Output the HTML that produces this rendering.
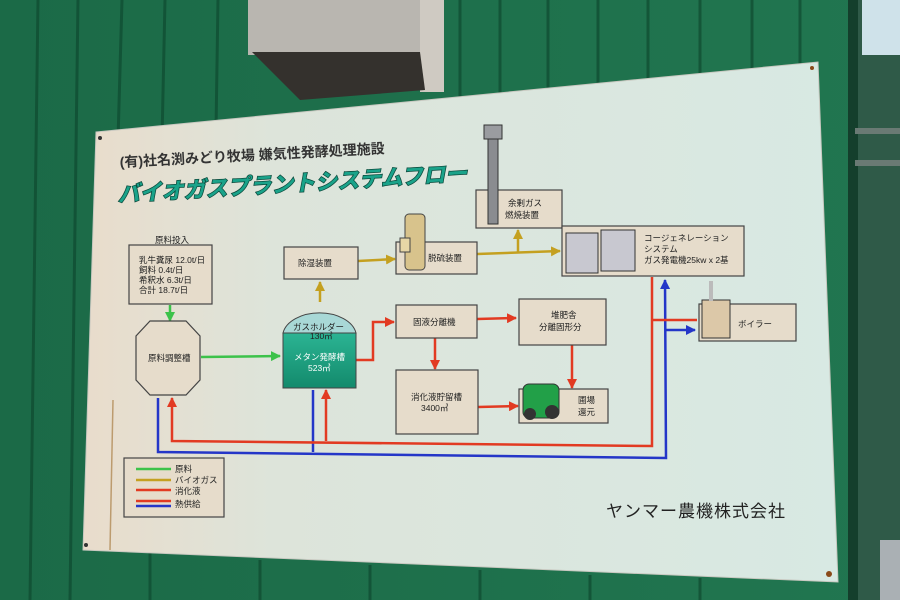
<!DOCTYPE html>
<html><head><meta charset="utf-8"><style>
html,body{margin:0;padding:0;width:900px;height:600px;overflow:hidden;background:#1d6a47}
svg{display:block}
text{font-family:"Liberation Sans","Noto Sans CJK JP",sans-serif;fill:#222}
</style></head><body>
<svg width="900" height="600" viewBox="0 0 900 600" xmlns="http://www.w3.org/2000/svg">
<defs>
<linearGradient id="wall" x1="0" x2="1" y1="0" y2="0">
<stop offset="0" stop-color="#1b6a47"/><stop offset="1" stop-color="#217650"/>
</linearGradient>
<linearGradient id="board" x1="0" x2="1" y1="0" y2="0">
<stop offset="0" stop-color="#e9dccb"/><stop offset="0.25" stop-color="#dde4da"/><stop offset="1" stop-color="#d8e9e3"/>
</linearGradient>
<linearGradient id="tank" x1="0" x2="0" y1="0" y2="1">
<stop offset="0" stop-color="#2bb493"/><stop offset="1" stop-color="#138a6c"/>
</linearGradient>
<marker id="ar" viewBox="0 0 10 10" refX="9" refY="5" markerWidth="4" markerHeight="4" orient="auto"><path d="M0,0L10,5L0,10z" fill="#e23a22"/></marker>
<marker id="ag" viewBox="0 0 10 10" refX="9" refY="5" markerWidth="4" markerHeight="4" orient="auto"><path d="M0,0L10,5L0,10z" fill="#3cc24a"/></marker>
<marker id="ay" viewBox="0 0 10 10" refX="9" refY="5" markerWidth="4" markerHeight="4" orient="auto"><path d="M0,0L10,5L0,10z" fill="#c4a020"/></marker>
<marker id="ab" viewBox="0 0 10 10" refX="9" refY="5" markerWidth="4" markerHeight="4" orient="auto"><path d="M0,0L10,5L0,10z" fill="#2436c8"/></marker>
</defs>
<rect width="900" height="600" fill="url(#wall)"/>
<g stroke="#0f4a30" stroke-width="3" opacity="0.7">
<line x1="38" y1="0" x2="30" y2="600"/><line x1="78" y1="0" x2="70" y2="600"/>
<line x1="122" y1="0" x2="118" y2="140"/><line x1="165" y1="0" x2="162" y2="140"/>
<line x1="218" y1="0" x2="216" y2="130"/><line x1="460" y1="0" x2="460" y2="100"/>
<line x1="500" y1="0" x2="500" y2="95"/><line x1="548" y1="0" x2="548" y2="90"/>
<line x1="598" y1="0" x2="598" y2="85"/><line x1="648" y1="0" x2="648" y2="80"/>
<line x1="700" y1="0" x2="700" y2="75"/><line x1="752" y1="0" x2="752" y2="70"/>
<line x1="800" y1="0" x2="800" y2="65"/>
<line x1="150" y1="550" x2="150" y2="600"/><line x1="260" y1="560" x2="260" y2="600"/>
<line x1="370" y1="565" x2="370" y2="600"/><line x1="480" y1="570" x2="480" y2="600"/>
<line x1="590" y1="575" x2="590" y2="600"/><line x1="700" y1="578" x2="700" y2="600"/>
</g>
<rect x="848" y="0" width="10" height="600" fill="#143f2c"/>
<rect x="858" y="0" width="42" height="600" fill="#2f5a48"/>
<rect x="862" y="0" width="38" height="55" fill="#cfe2ea"/>
<rect x="855" y="128" width="45" height="6" fill="#6a7a74"/>
<rect x="855" y="160" width="45" height="6" fill="#6a7a74"/>
<rect x="880" y="540" width="20" height="60" fill="#aab0b4"/>
<rect x="248" y="0" width="196" height="55" fill="#b9b6b0"/>
<rect x="420" y="0" width="24" height="92" fill="#cfcac2"/>
<polygon points="252,52 420,52 425,90 300,100" fill="#34312d"/>
<polygon points="96,132 818,62 838,582 83,550" fill="url(#board)" stroke="#c8c8c0" stroke-width="1"/>
<circle cx="100" cy="138" r="2" fill="#333"/><circle cx="86" cy="545" r="2" fill="#333"/>
<circle cx="829" cy="574" r="3" fill="#8a4a1a"/><circle cx="812" cy="68" r="2" fill="#8a4a1a"/>
<line x1="113" y1="400" x2="110" y2="550" stroke="#a07030" stroke-width="1.5" opacity="0.6"/>
<text x="120" y="167" font-size="14" font-weight="bold" style="fill:#333" transform="rotate(-3 120 167)">(有)社名渕みどり牧場  嫌気性発酵処理施設</text>
<text x="118" y="202" font-size="22" font-weight="bold" font-style="italic" style="fill:#1aa38a;stroke:#0b4a3c;stroke-width:1.5;paint-order:stroke" transform="rotate(-3.5 118 202)">バイオガスプラントシステムフロー</text>
<text x="606" y="517" font-size="17" style="letter-spacing:1px">ヤンマー農機株式会社</text>
<g fill="none" stroke-width="2.5">
<polyline points="158,398 158,452 666,458 665,280" stroke="#2436c8" marker-end="url(#ab)"/>
<polyline points="313,390 313,452" stroke="#2436c8"/>
<polyline points="665,330 695,330" stroke="#2436c8" marker-end="url(#ab)"/>
<polyline points="652,277 652,446 172,441 172,398" stroke="#e23a22" marker-end="url(#ar)"/>
<polyline points="326,441 326,390" stroke="#e23a22" marker-end="url(#ar)"/>
<polyline points="652,320 697,320" stroke="#e23a22"/>
<polyline points="356,360 373,360 373,322 394,322" stroke="#e23a22" marker-end="url(#ar)"/>
<polyline points="477,319 516,318" stroke="#e23a22" marker-end="url(#ar)"/>
<polyline points="435,338 435,369" stroke="#e23a22" marker-end="url(#ar)"/>
<polyline points="478,407 518,406" stroke="#e23a22" marker-end="url(#ar)"/>
<polyline points="572,345 572,388" stroke="#e23a22" marker-end="url(#ar)"/>
<polyline points="170,305 170,321" stroke="#3cc24a" marker-end="url(#ag)"/>
<polyline points="201,357 280,356" stroke="#3cc24a" marker-end="url(#ag)"/>
<polyline points="320,302 320,282" stroke="#c4a020" marker-end="url(#ay)"/>
<polyline points="358,261 395,259" stroke="#c4a020" marker-end="url(#ay)"/>
<polyline points="477,254 560,251" stroke="#c4a020" marker-end="url(#ay)"/>
<polyline points="518,253 518,230" stroke="#c4a020" marker-end="url(#ay)"/>
</g>
<g fill="#e6dccb" stroke="#444" stroke-width="1.2">
<rect x="129" y="245" width="83" height="59"/>
<polygon points="150,321 186,321 200,336 200,380 186,395 150,395 136,380 136,336"/>
<rect x="284" y="247" width="74" height="32"/>
<rect x="396" y="242" width="81" height="32"/>
<rect x="476" y="190" width="86" height="38"/>
<rect x="562" y="226" width="182" height="50"/>
<rect x="396" y="305" width="81" height="33"/>
<rect x="519" y="299" width="87" height="46"/>
<rect x="396" y="370" width="82" height="64"/>
<rect x="519" y="389" width="89" height="34"/>
<rect x="699" y="304" width="97" height="37"/>
<rect x="124" y="458" width="100" height="59"/>
</g>
<path d="M283,333 A37,24 0 0 1 356,333 Z" fill="#a8d8d6" stroke="#444"/>
<rect x="283" y="333" width="73" height="55" fill="url(#tank)" stroke="#444"/>
<rect x="405" y="214" width="20" height="56" rx="4" fill="#d8c38c" stroke="#444"/>
<rect x="400" y="238" width="10" height="14" fill="#e6d6a6" stroke="#444"/>
<rect x="488" y="130" width="10" height="94" fill="#8a8c90" stroke="#333"/>
<rect x="484" y="125" width="18" height="14" fill="#9a9ca0" stroke="#333"/>
<rect x="566" y="233" width="32" height="40" fill="#c8c8d0" stroke="#333"/>
<rect x="601" y="230" width="34" height="41" fill="#c8c8d0" stroke="#333"/>
<rect x="702" y="300" width="28" height="38" fill="#dcc8a8" stroke="#333"/>
<rect x="709" y="281" width="4" height="20" fill="#bbb"/>
<rect x="523" y="384" width="36" height="34" rx="6" fill="#22a048" stroke="#333"/>
<circle cx="530" cy="414" r="6" fill="#333"/><circle cx="552" cy="412" r="7" fill="#333"/>
<g font-size="8.5">
<text x="155" y="243">原料投入</text>
<text x="139" y="263">乳牛糞尿  12.0t/日</text>
<text x="139" y="273">飼料       0.4t/日</text>
<text x="139" y="283">希釈水     6.3t/日</text>
<text x="139" y="293">合計      18.7t/日</text>
<text x="148" y="361">原料調整槽</text>
<text x="298" y="266">除湿装置</text>
<text x="428" y="261">脱硫装置</text>
<text x="508" y="206">余剰ガス</text>
<text x="505" y="218">燃焼装置</text>
<text x="644" y="241">コージェネレーション</text>
<text x="644" y="252">システム</text>
<text x="644" y="263">ガス発電機25kw x 2基</text>
<text x="293" y="330">ガスホルダー</text>
<text x="310" y="339">130㎥</text>
<text x="294" y="360" style="fill:#fff">メタン発酵槽</text>
<text x="308" y="371" style="fill:#fff">523㎥</text>
<text x="413" y="325">固液分離機</text>
<text x="551" y="318">堆肥舎</text>
<text x="539" y="330">分離固形分</text>
<text x="411" y="400">消化液貯留槽</text>
<text x="421" y="411">3400㎥</text>
<text x="578" y="403">圃場</text>
<text x="578" y="415">還元</text>
<text x="738" y="327">ボイラー</text>
<text x="175" y="472">原料</text>
<text x="175" y="483">バイオガス</text>
<text x="175" y="494">消化液</text>
<text x="175" y="507">熱供給</text>
</g>
<g stroke-width="2.5">
<line x1="136" y1="469" x2="171" y2="469" stroke="#3cc24a"/>
<line x1="136" y1="480" x2="171" y2="480" stroke="#c4a020"/>
<line x1="136" y1="490" x2="171" y2="490" stroke="#e23a22"/>
<line x1="136" y1="501" x2="171" y2="501" stroke="#e23a22"/>
<line x1="136" y1="506" x2="171" y2="506" stroke="#2436c8"/>
</g>
</svg>
</body></html>
